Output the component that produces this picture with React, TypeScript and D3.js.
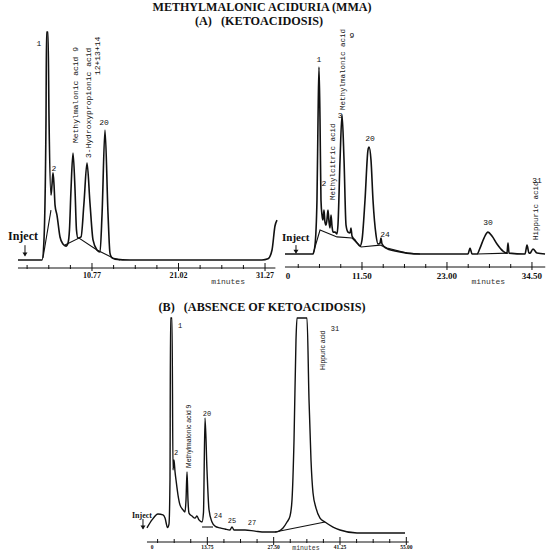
import React from 'react';
import * as d3 from 'd3';

type Pt = [number, number];
type Lab = { t: number; s: number; text: string };

const titleMain = 'METHYLMALONIC ACIDURIA (MMA)';
const titleA = '(A)   (KETOACIDOSIS)';
const titleB = '(B)   (ABSENCE OF KETOACIDOSIS)';

// ---------- Panel A, left run: [retention time (min), response (% full scale)]
const aLeftTrace: Pt[] = [
  [2.0, 0], [4.85, 0], [5.08, 8.8], [5.32, 61.4], [5.38, 100], [5.56, 100], [5.68, 61.4],
  [5.91, 28.5], [6.03, 33], [6.15, 38.2], [6.27, 33], [6.39, 24.1], [6.62, 19.7], [6.98, 10.1],
  [7.33, 7.0], [7.69, 6.1], [7.93, 7.5], [8.1, 13.2], [8.28, 30.7], [8.52, 46.9], [8.76, 30.7],
  [8.93, 13.2], [9.11, 9.6], [9.47, 10.1], [9.82, 25], [10.18, 42.5], [10.53, 25], [10.89, 8.8],
  [11.36, 4.4], [11.72, 3.5], [11.96, 20], [12.31, 57.0], [12.67, 20], [12.9, 3], [13.14, 0.9],
  [13.5, 0.4], [15.27, 0], [30.91, 0], [31.62, 0.5], [32.1, 4.4], [32.45, 14.9], [32.69, 17.5],
];
const aLeftHump: Pt[] = [[4.96, 0.9], [5.91, 21.9]];
const aLeftBaseline: Pt[] = [[7.57, 6.6], [9.23, 9.6], [11.36, 4.4], [13.26, 0.9], [14.09, 0]];
const aLeftTicks: number[] = [3.08, 5.65, 8.21, 10.77, 13.33, 15.9, 18.46, 21.02, 23.58, 26.15, 28.71, 31.27];
const aLeftTickLabels: string[] = ['10.77', '21.02', '31.27'];
const aLeftTickLabelTimes: number[] = [10.77, 21.02, 31.27];
const aLeftPeakLabels: Lab[] = [
  { t: 4.49, s: 95.2, text: '1' },
  { t: 6.27, s: 40.4, text: '2' },
  { t: 12.19, s: 60.5, text: '20' },
];
const aLeftNames: Lab[] = [
  { t: 9.11, s: 51.3, text: 'Methylmalonic acid  9' },
  { t: 10.65, s: 44.7, text: '3-Hydroxypropionic acid' },
  { t: 11.72, s: 81.1, text: '12+13+14' },
];

// ---------- Panel A, right run
const aRightTrace: Pt[] = [
  [1.08, 0], [4.87, 0], [5.14, 3.9], [5.41, 23.7], [5.55, 58.8], [5.68, 82.0], [5.82, 58.8],
  [5.95, 23.7], [6.09, 17], [6.22, 14.9], [6.36, 19.3], [6.49, 14], [6.63, 12.7], [6.76, 15],
  [6.9, 19.3], [7.04, 14], [7.17, 11.4], [7.31, 17.1], [7.45, 12], [7.58, 9.6], [7.85, 9.6],
  [8.12, 8.8], [8.25, 12.7], [8.53, 41.2], [8.8, 61.0], [9.07, 41.2], [9.34, 12.7], [9.61, 9.6],
  [9.88, 9.2], [10.01, 11.4], [10.15, 7.9], [10.55, 6.1], [10.96, 4.4], [11.23, 3.5], [11.5, 6.1],
  [11.91, 23.7], [12.31, 45.6], [12.45, 46.9], [12.72, 41.2], [12.99, 23.7], [13.4, 8.3],
  [13.67, 4.4], [13.94, 4.8], [14.07, 7.0], [14.21, 4.4], [14.75, 2.6], [15.97, 1.3], [17.59, 0.4],
  [19.35, 0], [25.85, 0], [26.12, 2.6], [26.39, 0], [27.06, 0], [27.47, 2.6], [28.01, 7.0],
  [28.55, 9.6], [29.09, 7.9], [29.77, 4.4], [30.58, 1.3], [31.12, 0.4], [31.26, 4.8], [31.4, 0.4],
  [33.56, 0], [33.83, 3.9], [34.1, 0.4], [34.24, 0.4], [34.64, 2.2], [35.18, 0.4], [36.27, 0],
];
const aRightBaseline: Pt[] = [
  [4.87, 0], [5.82, 10.5], [8.12, 7.5], [10.15, 7.0], [11.37, 3.1], [13.94, 3.9], [14.89, 2.6],
  [17.59, 0.4], [19.35, 0],
];
const aRightBaseline30: Pt[] = [[27.06, 0], [31.26, 0.4]];
const aRightTicks: number[] = [2.875, 5.75, 8.625, 11.5, 14.375, 17.25, 20.125, 23.0, 25.875, 28.75, 31.625, 34.5];
const aRightTickLabels: string[] = ['0', '11.50', '23.00', '34.50'];
const aRightTickLabelTimes: number[] = [1.5, 11.5, 23.0, 34.5];
const aRightPeakLabels: Lab[] = [
  { t: 5.68, s: 85.5, text: '1' },
  { t: 6.36, s: 31.1, text: '2' },
  { t: 8.53, s: 61.0, text: '3' },
  { t: 10.15, s: 96.1, text: '9' },
  { t: 12.58, s: 50.9, text: '20' },
  { t: 14.61, s: 8.8, text: '24' },
  { t: 28.55, s: 14.0, text: '30' },
  { t: 35.18, s: 32.5, text: '31' },
];
const aRightNames: Lab[] = [
  { t: 7.85, s: 23.7, text: 'Methylcitric acid' },
  { t: 9.2, s: 63.2, text: 'Methylmalonic acid' },
  { t: 35.32, s: 6.1, text: 'Hippuric acid' },
];

// ---------- Panel B
const bTrace: Pt[] = [
  [1.24, 5.3], [2.28, 8.8], [3.52, 11.4], [4.56, 11.0], [4.98, 9.6], [5.5, 5.5], [5.8, 7.0],
  [6.01, 26.3], [6.12, 97.4], [6.43, 97.4], [6.63, 30.7], [6.84, 35.1], [7.05, 30.0], [7.26, 26.3],
  [7.67, 19.7], [8.08, 15.4], [8.71, 13.2], [9.12, 12.3], [9.33, 17.5], [9.54, 29.8], [9.74, 17.5],
  [9.95, 11.8], [10.57, 10.5], [11.19, 9.6], [11.6, 10.5], [12.02, 8.8], [12.65, 7.9], [12.95, 12],
  [13.27, 53.5], [13.68, 30.7], [14.1, 13.2], [14.72, 7.9], [15.34, 6.1], [16.38, 5.3], [17.41, 4.8],
  [18.45, 4.4], [18.86, 5.7], [19.28, 4.4], [21.56, 4.4], [23.63, 3.9], [25.7, 3.5], [27.78, 3.5],
  [29.44, 5.3], [30.27, 7.9], [30.89, 10.5], [31.3, 17.5], [31.72, 43.9], [32.13, 87.7], [32.34, 97.4],
  [34.41, 97.4], [34.83, 61.4], [35.24, 35.1], [35.66, 20.6], [36.28, 14.0], [37.11, 9.6],
  [38.14, 7.9], [39.8, 5.7], [41.25, 4.4], [44.78, 3.1], [54.73, 3.1],
];
const bBaseline31: Pt[] = [[27.78, 3.5], [38.14, 7.9]];
const bBaseline20: Pt[] = [[12.65, 5.7], [14.93, 5.7]];
const bTicks: number[] = [3.44, 6.88, 10.31, 13.75, 17.19, 20.63, 24.06, 27.5, 30.94, 34.38, 37.81, 41.25, 44.69, 48.13, 51.56, 55.0];
const bTickLabels: string[] = ['0', '13.75', '27.50', '41.25', '55.00'];
const bTickLabelTimes: number[] = [2.3, 13.75, 27.5, 41.25, 55.0];
const bPeakLabels: Lab[] = [
  { t: 8.08, s: 94.3, text: '1' },
  { t: 7.26, s: 38.6, text: '2' },
  { t: 13.68, s: 55.7, text: '20' },
  { t: 15.96, s: 11.0, text: '24' },
  { t: 18.86, s: 8.8, text: '25' },
  { t: 23.01, s: 7.9, text: '27' },
  { t: 40.22, s: 93.0, text: '31' },
];
const bNames: Lab[] = [
  { t: 10.37, s: 31.6, text: 'Methylmalonic acid 9' },
  { t: 38.14, s: 74.6, text: 'Hippuric acid' },
];

const INK = '#111111';
const MONO = '"Liberation Mono", "DejaVu Sans Mono", monospace';
const SERIF = '"Liberation Serif", "DejaVu Serif", serif';
const SANS = '"Liberation Sans Narrow", "Liberation Sans", Arial, sans-serif';

type PanelProps = {
  x: d3.ScaleLinear<number, number>;
  y: d3.ScaleLinear<number, number>;
  trace: Pt[];
  baselines: Pt[][];
  axisY: number;
  axisFrom: number;
  axisTo: number;
  ticks: number[];
  majors: number[];
  tickLabels: string[];
  tickLabelTimes: number[];
  tickFont: number;
  tickLabelY: number;
  minutesT: number;
  minutesY: number;
  minutesFont: number;
  peakLabels: Lab[];
  names: Lab[];
  nameFont: number;
  nameFamily: string;
  nameStretch?: number;
  peakFont: number;
  injectT: number;
  injectS: number;
  injectFont: number;
  arrowT: number;
  arrowS: [number, number];
  traceWidth: number;
};

function Panel(p: PanelProps) {
  const line = d3.line<Pt>().x(d => p.x(d[0])).y(d => p.y(d[1])).curve(d3.curveMonotoneX);
  const straight = d3.line<Pt>().x(d => p.x(d[0])).y(d => p.y(d[1]));
  const isMajor = (t: number) => p.majors.some(m => Math.abs(m - t) < 0.05);
  const ax0 = p.x(p.arrowT);
  const ay0 = p.y(p.arrowS[0]);
  const ay1 = p.y(p.arrowS[1]);
  return (
    <g>
      <path d={line(p.trace) || ''} fill="none" stroke={INK} strokeWidth={p.traceWidth} strokeLinejoin="round" />
      {p.baselines.map((b, i) => (
        <path key={i} d={straight(b) || ''} fill="none" stroke={INK} strokeWidth={1.1} />
      ))}
      <line x1={p.x(p.axisFrom)} x2={p.x(p.axisTo)} y1={p.axisY} y2={p.axisY} stroke={INK} strokeWidth={1} />
      {p.ticks.map((t, i) => (
        <line key={i} x1={p.x(t)} x2={p.x(t)}
          y1={isMajor(t) ? p.axisY - 5 : p.axisY - 3}
          y2={isMajor(t) ? p.axisY + 3 : p.axisY + 1}
          stroke={INK} strokeWidth={1} />
      ))}
      {p.tickLabels.map((s, i) => (
        <text key={i} x={p.x(p.tickLabelTimes[i])} y={p.tickLabelY} textAnchor="middle"
          fontFamily={SERIF} fontWeight="bold" fontSize={p.tickFont} fill={INK}>{s}</text>
      ))}
      <text x={p.x(p.minutesT)} y={p.minutesY} textAnchor="middle" fontFamily={MONO} fontSize={p.minutesFont} fill="#333">minutes</text>
      {p.peakLabels.map((l, i) => (
        <text key={i} x={p.x(l.t)} y={p.y(l.s) + 3} textAnchor="middle" fontFamily={MONO}
          fontSize={p.peakFont} fill={INK}>{l.text}</text>
      ))}
      {p.names.map((l, i) => (
        <text key={i} transform={`translate(${p.x(l.t)},${p.y(l.s)}) rotate(-90)${p.nameStretch ? ` scale(${p.nameStretch},1)` : ''}`}
          fontFamily={p.nameFamily} fontSize={p.nameFont} fill={INK}>{l.text}</text>
      ))}
      <text x={p.x(p.injectT)} y={p.y(p.injectS)} fontFamily={SERIF} fontWeight="bold" fontSize={p.injectFont} fill={INK}>Inject</text>
      <line x1={ax0} x2={ax0} y1={ay0} y2={ay1} stroke={INK} strokeWidth={1} />
      <path d={`M${ax0 - 2.5},${ay1 - 3}L${ax0 + 2.5},${ay1 - 3}L${ax0},${ay1 + 1}Z`} fill={INK} />
    </g>
  );
}

export default function App() {
  const xAL = d3.scaleLinear().domain([0, 32.5]).range([1.1, 1.1 + 32.5 * 8.44]);
  const yAL = d3.scaleLinear().domain([0, 100]).range([260, 32]);
  const xAR = d3.scaleLinear().domain([0, 36.5]).range([277, 277 + 36.5 * 7.39]);
  const yAR = d3.scaleLinear().domain([0, 100]).range([254, 26]);
  const xB = d3.scaleLinear().domain([0, 56]).range([141, 141 + 56 * 4.824]);
  const yB = d3.scaleLinear().domain([0, 100]).range([540, 312]);

  return (
    <svg width={550} height={550} viewBox="0 0 550 550"
      style={{ position: 'absolute', left: 0, top: 0, background: '#fff' }}>
      <rect x={0} y={0} width={550} height={550} fill="#fff" />
      <text x={262} y={11} textAnchor="middle" fontFamily={SERIF} fontWeight="bold" fontSize={12}
        textLength={219} lengthAdjust="spacingAndGlyphs" fill={INK}>{titleMain}</text>
      <text x={259} y={25} textAnchor="middle" fontFamily={SERIF} fontWeight="bold" fontSize={12}
        textLength={128} lengthAdjust="spacingAndGlyphs" fill={INK} style={{ whiteSpace: 'pre' }}>{titleA}</text>
      <text x={262} y={311} textAnchor="middle" fontFamily={SERIF} fontWeight="bold" fontSize={12}
        textLength={207} lengthAdjust="spacingAndGlyphs" fill={INK} style={{ whiteSpace: 'pre' }}>{titleB}</text>

      <Panel x={xAL} y={yAL} trace={aLeftTrace} baselines={[aLeftHump, aLeftBaseline]}
        axisY={268} axisFrom={2.0} axisTo={32.5} ticks={aLeftTicks} majors={aLeftTickLabelTimes}
        tickLabels={aLeftTickLabels} tickLabelTimes={aLeftTickLabelTimes} tickFont={8} tickLabelY={278}
        minutesT={26.9} minutesY={284} minutesFont={8} peakLabels={aLeftPeakLabels} names={aLeftNames}
        nameFont={8} nameFamily={MONO} peakFont={8}
        injectT={0.82} injectS={8.8} injectFont={12} arrowT={2.83} arrowS={[6.5, 2.0]} traceWidth={1.6} />

      <Panel x={xAR} y={yAR} trace={aRightTrace} baselines={[aRightBaseline, aRightBaseline30]}
        axisY={267} axisFrom={1.08} axisTo={36.3} ticks={aRightTicks} majors={[11.5, 23.0, 34.5]}
        tickLabels={aRightTickLabels} tickLabelTimes={aRightTickLabelTimes} tickFont={9} tickLabelY={279}
        minutesT={28.6} minutesY={284} minutesFont={8} peakLabels={aRightPeakLabels} names={aRightNames}
        nameFont={7.5} nameFamily={MONO} peakFont={8}
        injectT={0.68} injectS={5.7} injectFont={11} arrowT={2.57} arrowS={[3.9, 0.6]} traceWidth={1.6} />

      <Panel x={xB} y={yB} trace={bTrace} baselines={[bBaseline31, bBaseline20]}
        axisY={542} axisFrom={1.24} axisTo={55.5} ticks={bTicks} majors={[13.75, 27.5, 41.25, 55.0]}
        tickLabels={bTickLabels} tickLabelTimes={bTickLabelTimes} tickFont={5.5} tickLabelY={549}
        minutesT={34.2} minutesY={549.5} minutesFont={6.5} peakLabels={bPeakLabels} names={bNames}
        nameFont={8} nameFamily={SANS} nameStretch={0.85} peakFont={7}
        injectT={-1.87} injectS={9.6} injectFont={8} arrowT={0.41} arrowS={[9.2, 5.0]} traceWidth={1.4} />
    </svg>
  );
}
